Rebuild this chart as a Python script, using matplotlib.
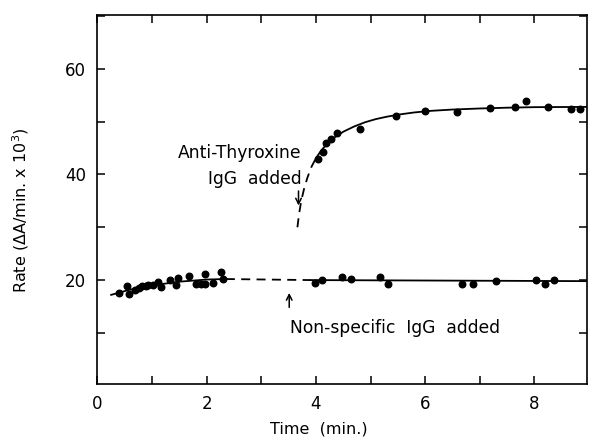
import numpy as np
import matplotlib
matplotlib.use('Agg')
import matplotlib.pyplot as plt
from matplotlib.ticker import MultipleLocator

# Non-specific IgG series
ns_x = [0.40, 0.54, 0.57, 0.69, 0.76, 0.82, 0.88, 0.93, 1.02, 1.10, 1.17,
        1.33, 1.44, 1.48, 1.67, 1.80, 1.89, 1.96, 1.97, 2.12, 2.27, 2.30,
        3.99, 4.11, 4.48, 4.65, 5.17, 5.32, 6.68, 6.88, 7.29, 8.03, 8.20, 8.36]
ns_y = [17.6, 18.9, 17.4, 18.1, 18.5, 18.8, 18.8, 19.0, 19.0, 19.7, 18.7,
        20.0, 19.1, 20.3, 20.8, 19.2, 19.3, 21.2, 19.3, 19.4, 21.6, 20.2,
        19.4, 20.05, 20.5, 20.2, 20.6, 19.3, 19.3, 19.2, 19.9, 20.0, 19.3, 20.0]

# Anti-thyroxine IgG series
at_x = [4.03, 4.12, 4.19, 4.28, 4.38, 4.80, 5.46, 6.00, 6.59, 7.18, 7.65,
        7.84, 8.24, 8.66, 8.84]
at_y = [43.0, 44.3, 45.9, 46.8, 47.8, 48.6, 51.0, 52.1, 51.9, 52.5, 52.7,
        53.9, 52.7, 52.4, 52.4]

# hand-drawn curves
ns_line1_x = [0.25, 0.6, 1.0, 1.5, 2.0, 2.35]
ns_line1_y = [17.2, 18.2, 19.0, 19.7, 20.1, 20.2]
ns_dash_x = [2.35, 3.9]
ns_dash_y = [20.2, 20.0]
ns_line2_x = [3.9, 8.95]
ns_line2_y = [20.0, 19.8]

at_dash_x = [3.66, 3.69, 3.73, 3.78, 3.84, 3.91, 4.00]
at_dash_y = [30.0, 32.5, 35.0, 37.2, 39.3, 41.3, 43.1]
at_line_x = [4.00, 4.10, 4.22, 4.35, 4.5, 4.7, 4.9, 5.1, 5.3, 5.55, 5.8,
             6.1, 6.5, 7.0, 7.5, 8.0, 8.95]
at_line_y = [43.1, 44.6, 46.0, 47.1, 48.1, 49.1, 49.9, 50.5, 50.95, 51.4, 51.75,
             52.05, 52.3, 52.5, 52.65, 52.75, 52.8]

fig = plt.figure(figsize=(5.89, 4.42), dpi=100)
ax = fig.add_axes([0.1655, 0.131, 0.831, 0.835])

dash = (0, (5, 3.5))
ax.plot(ns_line1_x, ns_line1_y, color='black', lw=1.3)
ax.plot(ns_dash_x, ns_dash_y, color='black', lw=1.3, linestyle=dash)
ax.plot(ns_line2_x, ns_line2_y, color='black', lw=1.3)
ax.plot(at_dash_x, at_dash_y, color='black', lw=1.3, linestyle=dash)
ax.plot(at_line_x, at_line_y, color='black', lw=1.3)

ax.plot(ns_x, ns_y, 'o', color='black', markersize=4.7)
ax.plot(at_x, at_y, 'o', color='black', markersize=4.7)

# annotations
ax.text(3.74, 44.0, 'Anti-Thyroxine', ha='right', va='center', fontsize=12.3)
ax.text(3.74, 39.1, 'IgG  added', ha='right', va='center', fontsize=12.3)
ax.annotate('', xy=(3.68, 33.6), xytext=(3.68, 37.4),
            arrowprops=dict(arrowstyle='->', color='black', lw=1.1))
ax.text(3.53, 11.0, 'Non-specific  IgG  added', ha='left', va='center', fontsize=12.3)
ax.annotate('', xy=(3.51, 18.1), xytext=(3.51, 14.3),
            arrowprops=dict(arrowstyle='->', color='black', lw=1.1))

ax.set_xlim(0, 8.96)
ax.set_ylim(0.3, 70.2)
ax.xaxis.set_major_locator(MultipleLocator(2))
ax.xaxis.set_minor_locator(MultipleLocator(1))
ax.yaxis.set_major_locator(MultipleLocator(20))
ax.yaxis.set_minor_locator(MultipleLocator(10))
ax.tick_params(which='both', direction='in', top=True, right=True,
               length=5.5, width=1.1, labelsize=12)
ax.tick_params(axis='x', which='major', pad=8)
ax.tick_params(axis='y', which='major', pad=8)
for s in ax.spines.values():
    s.set_linewidth(1.2)

ax.set_xlabel('Time  (min.)', fontsize=11.5)
ax.xaxis.set_label_coords(0.452, -0.1)
ax.set_ylabel('Rate ($\\Delta$A/min. x 10$^3$)', fontsize=11.5)
ax.yaxis.set_label_coords(-0.135, 0.47)

fig.savefig('out.png', dpi=100)
